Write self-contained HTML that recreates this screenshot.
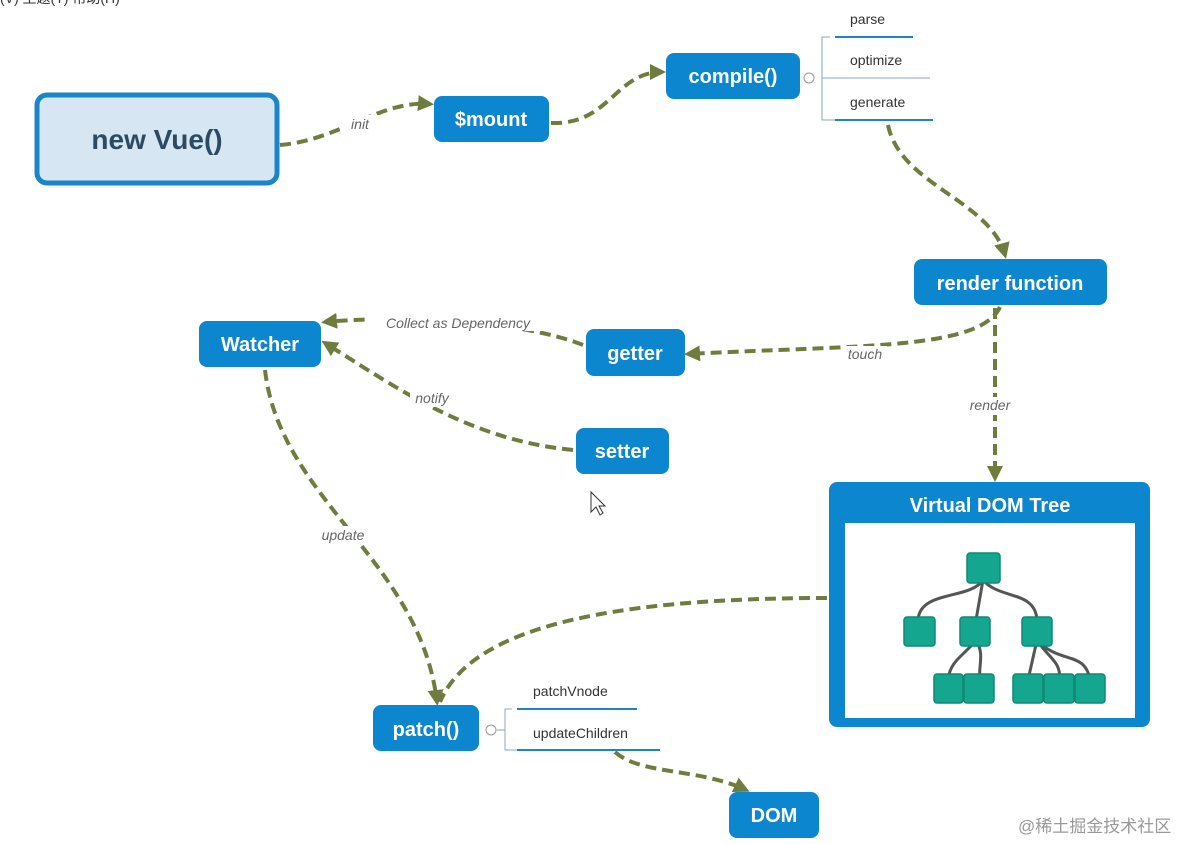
<!DOCTYPE html>
<html><head><meta charset="utf-8"><style>
body{margin:0;background:#fff;}
svg{display:block}
text{font-family:"Liberation Sans","Noto Sans CJK SC",sans-serif}
.b{font-weight:bold;fill:#fff;font-size:20px;text-anchor:middle}
.l{font-style:italic;fill:#666;font-size:14px;text-anchor:middle}
.s{fill:#333;font-size:14px}
.d{fill:none;stroke:#6e7d3e;stroke-width:4;stroke-dasharray:11 6}
.n{fill:#14a68e;stroke:#0c8a74;stroke-width:1.5}
</style></head><body>
<svg width="1186" height="844" viewBox="0 0 1186 844">
<defs>
<marker id="A" markerWidth="16" markerHeight="16" refX="12" refY="8" orient="auto" markerUnits="userSpaceOnUse"><path d="M0,0 L16,8 L0,16 z" fill="#6e7d3e"/></marker></defs>
<text x="0" y="3" font-size="14" fill="#333">(V)  主题(T)  帮助(H)</text>
<!-- connectors -->
<path class="d" d="M280,145 C340,140 380,100 430,104" marker-end="url(#A)"/>
<path class="d" d="M551,123 C610,125 615,72 662,72" marker-end="url(#A)"/>
<path class="d" d="M888,125 C900,185 990,200 1005,255" marker-end="url(#A)"/>
<path class="d" d="M1000,307 C980,350 860,345 688,354" marker-end="url(#A)"/>
<path class="d" d="M995,308 L995,478" marker-end="url(#A)"/>
<path class="d" d="M583,345 C520,320 400,315 325,322" marker-end="url(#A)"/>
<path class="d" d="M573,450 C470,440 400,390 325,343" marker-end="url(#A)"/>
<path class="d" d="M265,370 C280,500 420,560 437,702" marker-end="url(#A)"/>
<path class="d" d="M827,598 C600,598 470,630 440,702"/>
<path class="d" d="M615,752 C640,775 700,768 746,790" marker-end="url(#A)"/>
<rect x="340" y="115" width="40" height="18" fill="#fff"/><text class="l" x="360" y="129">init</text>
<rect x="370" y="313" width="175" height="18" fill="#fff"/><text class="l" x="458" y="328">Collect as Dependency</text>
<rect x="410" y="389" width="44" height="18" fill="#fff"/><text class="l" x="432" y="403">notify</text>
<rect x="843" y="346" width="44" height="18" fill="#fff"/><text class="l" x="865" y="359">touch</text>
<rect x="965" y="397" width="50" height="18" fill="#fff"/><text class="l" x="990" y="410">render</text>
<rect x="316" y="526" width="54" height="18" fill="#fff"/><text class="l" x="343" y="540">update</text>
<!-- nodes -->
<rect x="37" y="95" width="240" height="88" rx="10" fill="#d6e6f3" stroke="#1a86c8" stroke-width="5"/>
<text x="157" y="149" font-size="28" font-weight="bold" fill="#2d4a63" text-anchor="middle">new Vue()</text>
<rect x="434" y="96" width="115" height="46" rx="8" fill="#0d86d0"/><text class="b" x="491" y="126">$mount</text>
<rect x="666" y="53" width="134" height="46" rx="8" fill="#0d86d0"/><text class="b" x="733" y="83">compile()</text>
<circle cx="809" cy="78" r="5" fill="#fff" stroke="#999"/>
<path d="M830,37 L822,37 L822,120 L835,120 M822,78 L930,78" stroke="#8ab" fill="none"/>
<path d="M835,37 L913,37 M835,120 L933,120" stroke="#1a86c8" stroke-width="2"/>
<text class="s" x="850" y="24">parse</text><text class="s" x="850" y="65">optimize</text><text class="s" x="850" y="107">generate</text>
<rect x="914" y="259" width="193" height="46" rx="8" fill="#0d86d0"/><text class="b" x="1010" y="290">render function</text>
<rect x="199" y="321" width="122" height="46" rx="8" fill="#0d86d0"/><text class="b" x="260" y="351">Watcher</text>
<rect x="586" y="329" width="99" height="47" rx="8" fill="#0d86d0"/><text class="b" x="635" y="360">getter</text>
<rect x="576" y="428" width="93" height="46" rx="8" fill="#0d86d0"/><text class="b" x="622" y="458">setter</text>
<rect x="829" y="482" width="321" height="245" rx="8" fill="#0d86d0"/>
<rect x="845" y="523" width="290" height="195" fill="#fff"/>
<text class="b" x="990" y="512">Virtual DOM Tree</text>
<g stroke="#555" stroke-width="3" fill="none">
<path d="M983,580 C970,600 920,590 918,620 M983,580 L976,620 M983,580 C1000,600 1035,590 1037,620 M976,640 C965,655 950,660 948,680 M976,640 C985,655 978,665 980,680 M1037,640 L1028,680 M1037,640 C1050,660 1060,660 1060,680 M1037,640 C1060,665 1085,650 1090,680"/>
</g>
<g>
<rect class="n" x="967" y="553" width="33" height="30" rx="3"/>
<rect class="n" x="904" y="617" width="31" height="29" rx="3"/>
<rect class="n" x="960" y="617" width="30" height="29" rx="3"/>
<rect class="n" x="1022" y="617" width="30" height="29" rx="3"/>
<rect class="n" x="934" y="674" width="29" height="29" rx="3"/>
<rect class="n" x="964" y="674" width="30" height="29" rx="3"/>
<rect class="n" x="1013" y="674" width="30" height="29" rx="3"/>
<rect class="n" x="1044" y="674" width="30" height="29" rx="3"/>
<rect class="n" x="1075" y="674" width="30" height="29" rx="3"/>
</g>
<rect x="373" y="705" width="106" height="46" rx="8" fill="#0d86d0"/><text class="b" x="426" y="736">patch()</text>
<circle cx="491" cy="730" r="5" fill="#fff" stroke="#999"/>
<path d="M512,709 L505,709 L505,750 L517,750 M497,730 L505,730" stroke="#8ab" fill="none"/>
<path d="M517,709 L637,709 M517,750 L660,750" stroke="#1a86c8" stroke-width="2"/>
<text class="s" x="533" y="696">patchVnode</text><text class="s" x="533" y="738">updateChildren</text>
<rect x="729" y="792" width="90" height="46" rx="8" fill="#0d86d0"/><text class="b" x="774" y="822">DOM</text>
<text x="1018" y="832" font-size="17" fill="#999">@稀土掘金技术社区</text>
<path d="M591,492 L591,512 L596,507 L600,515 L603,513 L599,506 L605,506 Z" fill="#fff" stroke="#333" stroke-width="1"/>
</svg>
</body></html>
